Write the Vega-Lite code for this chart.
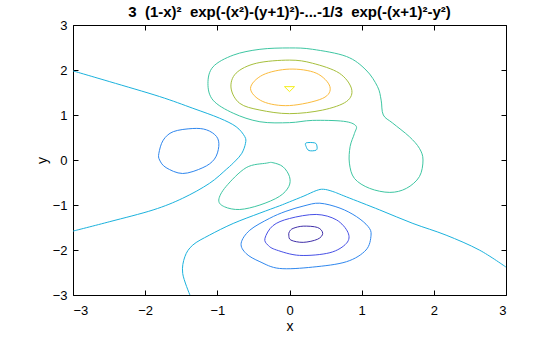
{
  "$schema": "https://vega.github.io/schema/vega-lite/v6.json",
  "autosize": "none",
  "width": 433,
  "height": 270,
  "padding": {"left": 73, "top": 25, "right": 54, "bottom": 42},
  "background": "white",
  "title": {
    "text": "3\u00a0 (1-x)²\u00a0 exp(-(x²)-(y+1)²)-...-1/3\u00a0 exp(-(x+1)²-y²)",
    "font": "Liberation Sans",
    "fontSize": 15,
    "fontWeight": "bold",
    "color": "black",
    "anchor": "middle",
    "offset": -1
  },
  "config": {
    "view": {"stroke": null},
    "axis": {
      "grid": false,
      "domainColor": "black",
      "domainWidth": 1,
      "tickColor": "black",
      "tickSize": -5,
      "labelFont": "Liberation Sans",
      "labelFontSize": 13,
      "labelColor": "black",
      "titleFont": "Liberation Sans",
      "titleFontSize": 14,
      "titleFontWeight": "normal",
      "titleColor": "black"
    }
  },
  "datasets": {
    "open": [
      {"id": "A", "lev": 0, "i": 0, "x": -3, "y": 1.98},
      {"id": "A", "lev": 0, "i": 1, "x": -2.49, "y": 1.74},
      {"id": "A", "lev": 0, "i": 2, "x": -1.8, "y": 1.41},
      {"id": "A", "lev": 0, "i": 3, "x": -1.34, "y": 1.15},
      {"id": "A", "lev": 0, "i": 4, "x": -0.97, "y": 0.93},
      {"id": "A", "lev": 0, "i": 5, "x": -0.74, "y": 0.74},
      {"id": "A", "lev": 0, "i": 6, "x": -0.62, "y": 0.52},
      {"id": "A", "lev": 0, "i": 7, "x": -0.61, "y": 0.37},
      {"id": "A", "lev": 0, "i": 8, "x": -0.66, "y": 0.15},
      {"id": "A", "lev": 0, "i": 9, "x": -0.75, "y": -0.02},
      {"id": "A", "lev": 0, "i": 10, "x": -0.87, "y": -0.2},
      {"id": "A", "lev": 0, "i": 11, "x": -1.11, "y": -0.52},
      {"id": "A", "lev": 0, "i": 12, "x": -1.48, "y": -0.85},
      {"id": "A", "lev": 0, "i": 13, "x": -1.89, "y": -1.11},
      {"id": "A", "lev": 0, "i": 14, "x": -2.49, "y": -1.37},
      {"id": "A", "lev": 0, "i": 15, "x": -3, "y": -1.58},
      {"id": "B", "lev": 0, "i": 0, "x": -1.38, "y": -3},
      {"id": "B", "lev": 0, "i": 1, "x": -1.48, "y": -2.52},
      {"id": "B", "lev": 0, "i": 2, "x": -1.45, "y": -2.15},
      {"id": "B", "lev": 0, "i": 3, "x": -1.34, "y": -1.89},
      {"id": "B", "lev": 0, "i": 4, "x": -1.11, "y": -1.67},
      {"id": "B", "lev": 0, "i": 5, "x": -0.78, "y": -1.41},
      {"id": "B", "lev": 0, "i": 6, "x": -0.41, "y": -1.18},
      {"id": "B", "lev": 0, "i": 7, "x": -0.14, "y": -1.02},
      {"id": "B", "lev": 0, "i": 8, "x": 0.0, "y": -0.93},
      {"id": "B", "lev": 0, "i": 9, "x": 0.2, "y": -0.8},
      {"id": "B", "lev": 0, "i": 10, "x": 0.37, "y": -0.68},
      {"id": "B", "lev": 0, "i": 11, "x": 0.47, "y": -0.65},
      {"id": "B", "lev": 0, "i": 12, "x": 0.6, "y": -0.7},
      {"id": "B", "lev": 0, "i": 13, "x": 0.79, "y": -0.82},
      {"id": "B", "lev": 0, "i": 14, "x": 1.25, "y": -1.11},
      {"id": "B", "lev": 0, "i": 15, "x": 1.71, "y": -1.41},
      {"id": "B", "lev": 0, "i": 16, "x": 2.17, "y": -1.67},
      {"id": "B", "lev": 0, "i": 17, "x": 2.63, "y": -2.0},
      {"id": "B", "lev": 0, "i": 18, "x": 3.0, "y": -2.38}
    ],
    "closed": [
      {"id": "C", "lev": -2, "i": 0, "x": -1.34, "y": 0.7},
      {"id": "C", "lev": -2, "i": 1, "x": -1.15, "y": 0.67},
      {"id": "C", "lev": -2, "i": 2, "x": -1.01, "y": 0.52},
      {"id": "C", "lev": -2, "i": 3, "x": -0.98, "y": 0.3},
      {"id": "C", "lev": -2, "i": 4, "x": -1.04, "y": 0.02},
      {"id": "C", "lev": -2, "i": 5, "x": -1.2, "y": -0.17},
      {"id": "C", "lev": -2, "i": 6, "x": -1.48, "y": -0.3},
      {"id": "C", "lev": -2, "i": 7, "x": -1.71, "y": -0.17},
      {"id": "C", "lev": -2, "i": 8, "x": -1.8, "y": 0.0},
      {"id": "C", "lev": -2, "i": 9, "x": -1.81, "y": 0.15},
      {"id": "C", "lev": -2, "i": 10, "x": -1.75, "y": 0.44},
      {"id": "C", "lev": -2, "i": 11, "x": -1.61, "y": 0.63},
      {"id": "D", "lev": 2, "i": 0, "x": -0.32, "y": -0.07},
      {"id": "D", "lev": 2, "i": 1, "x": -0.6, "y": -0.17},
      {"id": "D", "lev": 2, "i": 2, "x": -0.88, "y": -0.59},
      {"id": "D", "lev": 2, "i": 3, "x": -0.98, "y": -0.89},
      {"id": "D", "lev": 2, "i": 4, "x": -0.9, "y": -1.04},
      {"id": "D", "lev": 2, "i": 5, "x": -0.69, "y": -1.1},
      {"id": "D", "lev": 2, "i": 6, "x": -0.41, "y": -1.0},
      {"id": "D", "lev": 2, "i": 7, "x": -0.14, "y": -0.81},
      {"id": "D", "lev": 2, "i": 8, "x": -0.01, "y": -0.59},
      {"id": "D", "lev": 2, "i": 9, "x": 0.0, "y": -0.37},
      {"id": "D", "lev": 2, "i": 10, "x": -0.09, "y": -0.15},
      {"id": "D", "lev": 2, "i": 11, "x": -0.23, "y": -0.06},
      {"id": "E", "lev": 2, "i": 0, "x": -1.13, "y": 1.7},
      {"id": "E", "lev": 2, "i": 1, "x": -1.06, "y": 2.07},
      {"id": "E", "lev": 2, "i": 2, "x": -0.78, "y": 2.33},
      {"id": "E", "lev": 2, "i": 3, "x": -0.41, "y": 2.46},
      {"id": "E", "lev": 2, "i": 4, "x": 0.0, "y": 2.49},
      {"id": "E", "lev": 2, "i": 5, "x": 0.32, "y": 2.46},
      {"id": "E", "lev": 2, "i": 6, "x": 0.79, "y": 2.3},
      {"id": "E", "lev": 2, "i": 7, "x": 1.06, "y": 2.0},
      {"id": "E", "lev": 2, "i": 8, "x": 1.22, "y": 1.63},
      {"id": "E", "lev": 2, "i": 9, "x": 1.27, "y": 1.33},
      {"id": "E", "lev": 2, "i": 10, "x": 1.3, "y": 1.0},
      {"id": "E", "lev": 2, "i": 11, "x": 1.43, "y": 0.82},
      {"id": "E", "lev": 2, "i": 12, "x": 1.66, "y": 0.52},
      {"id": "E", "lev": 2, "i": 13, "x": 1.8, "y": 0.26},
      {"id": "E", "lev": 2, "i": 14, "x": 1.85, "y": 0.0},
      {"id": "E", "lev": 2, "i": 15, "x": 1.8, "y": -0.37},
      {"id": "E", "lev": 2, "i": 16, "x": 1.62, "y": -0.63},
      {"id": "E", "lev": 2, "i": 17, "x": 1.39, "y": -0.72},
      {"id": "E", "lev": 2, "i": 18, "x": 1.11, "y": -0.63},
      {"id": "E", "lev": 2, "i": 19, "x": 0.9, "y": -0.41},
      {"id": "E", "lev": 2, "i": 20, "x": 0.83, "y": -0.07},
      {"id": "E", "lev": 2, "i": 21, "x": 0.84, "y": 0.3},
      {"id": "E", "lev": 2, "i": 22, "x": 0.9, "y": 0.59},
      {"id": "E", "lev": 2, "i": 23, "x": 0.92, "y": 0.76},
      {"id": "E", "lev": 2, "i": 24, "x": 0.75, "y": 0.86},
      {"id": "E", "lev": 2, "i": 25, "x": 0.32, "y": 0.88},
      {"id": "E", "lev": 2, "i": 26, "x": 0.0, "y": 0.83},
      {"id": "E", "lev": 2, "i": 27, "x": -0.41, "y": 0.85},
      {"id": "E", "lev": 2, "i": 28, "x": -0.78, "y": 1.04},
      {"id": "E", "lev": 2, "i": 29, "x": -1.06, "y": 1.33},
      {"id": "F", "lev": 0, "i": 0, "x": 0.23, "y": 0.38},
      {"id": "F", "lev": 0, "i": 1, "x": 0.35, "y": 0.38},
      {"id": "F", "lev": 0, "i": 2, "x": 0.38, "y": 0.31},
      {"id": "F", "lev": 0, "i": 3, "x": 0.37, "y": 0.22},
      {"id": "F", "lev": 0, "i": 4, "x": 0.27, "y": 0.21},
      {"id": "F", "lev": 0, "i": 5, "x": 0.23, "y": 0.3},
      {"id": "G", "lev": 4, "i": 0, "x": -0.81, "y": 1.6},
      {"id": "G", "lev": 4, "i": 1, "x": -0.74, "y": 1.93},
      {"id": "G", "lev": 4, "i": 2, "x": -0.46, "y": 2.15},
      {"id": "G", "lev": 4, "i": 3, "x": 0.0, "y": 2.22},
      {"id": "G", "lev": 4, "i": 4, "x": 0.32, "y": 2.15},
      {"id": "G", "lev": 4, "i": 5, "x": 0.69, "y": 1.93},
      {"id": "G", "lev": 4, "i": 6, "x": 0.86, "y": 1.58},
      {"id": "G", "lev": 4, "i": 7, "x": 0.79, "y": 1.3},
      {"id": "G", "lev": 4, "i": 8, "x": 0.46, "y": 1.11},
      {"id": "G", "lev": 4, "i": 9, "x": 0.0, "y": 1.03},
      {"id": "G", "lev": 4, "i": 10, "x": -0.41, "y": 1.11},
      {"id": "G", "lev": 4, "i": 11, "x": -0.69, "y": 1.26},
      {"id": "H", "lev": 6, "i": 0, "x": -0.54, "y": 1.59},
      {"id": "H", "lev": 6, "i": 1, "x": -0.37, "y": 1.89},
      {"id": "H", "lev": 6, "i": 2, "x": 0.0, "y": 2.02},
      {"id": "H", "lev": 6, "i": 3, "x": 0.37, "y": 1.93},
      {"id": "H", "lev": 6, "i": 4, "x": 0.56, "y": 1.63},
      {"id": "H", "lev": 6, "i": 5, "x": 0.46, "y": 1.37},
      {"id": "H", "lev": 6, "i": 6, "x": 0.0, "y": 1.21},
      {"id": "H", "lev": 6, "i": 7, "x": -0.37, "y": 1.3},
      {"id": "J", "lev": -2, "i": 0, "x": -0.67, "y": -1.85},
      {"id": "J", "lev": -2, "i": 1, "x": -0.55, "y": -1.56},
      {"id": "J", "lev": -2, "i": 2, "x": -0.28, "y": -1.3},
      {"id": "J", "lev": -2, "i": 3, "x": -0.05, "y": -1.14},
      {"id": "J", "lev": -2, "i": 4, "x": 0.2, "y": -1.02},
      {"id": "J", "lev": -2, "i": 5, "x": 0.42, "y": -0.96},
      {"id": "J", "lev": -2, "i": 6, "x": 0.7, "y": -1.07},
      {"id": "J", "lev": -2, "i": 7, "x": 0.93, "y": -1.26},
      {"id": "J", "lev": -2, "i": 8, "x": 1.09, "y": -1.48},
      {"id": "J", "lev": -2, "i": 9, "x": 1.13, "y": -1.67},
      {"id": "J", "lev": -2, "i": 10, "x": 1.06, "y": -2.0},
      {"id": "J", "lev": -2, "i": 11, "x": 0.79, "y": -2.26},
      {"id": "J", "lev": -2, "i": 12, "x": 0.32, "y": -2.38},
      {"id": "J", "lev": -2, "i": 13, "x": -0.14, "y": -2.41},
      {"id": "J", "lev": -2, "i": 14, "x": -0.41, "y": -2.26},
      {"id": "J", "lev": -2, "i": 15, "x": -0.6, "y": -2.08},
      {"id": "K", "lev": -4, "i": 0, "x": -0.34, "y": -1.74},
      {"id": "K", "lev": -4, "i": 1, "x": -0.23, "y": -1.46},
      {"id": "K", "lev": -4, "i": 2, "x": 0.0, "y": -1.3},
      {"id": "K", "lev": -4, "i": 3, "x": 0.37, "y": -1.21},
      {"id": "K", "lev": -4, "i": 4, "x": 0.65, "y": -1.33},
      {"id": "K", "lev": -4, "i": 5, "x": 0.81, "y": -1.61},
      {"id": "K", "lev": -4, "i": 6, "x": 0.79, "y": -1.85},
      {"id": "K", "lev": -4, "i": 7, "x": 0.56, "y": -2.06},
      {"id": "K", "lev": -4, "i": 8, "x": 0.14, "y": -2.12},
      {"id": "K", "lev": -4, "i": 9, "x": -0.18, "y": -2.0},
      {"id": "K", "lev": -4, "i": 10, "x": -0.3, "y": -1.89},
      {"id": "L", "lev": -6, "i": 0, "x": 0.0, "y": -1.59},
      {"id": "L", "lev": -6, "i": 1, "x": 0.05, "y": -1.52},
      {"id": "L", "lev": -6, "i": 2, "x": 0.19, "y": -1.47},
      {"id": "L", "lev": -6, "i": 3, "x": 0.39, "y": -1.5},
      {"id": "L", "lev": -6, "i": 4, "x": 0.46, "y": -1.63},
      {"id": "L", "lev": -6, "i": 5, "x": 0.39, "y": -1.76},
      {"id": "L", "lev": -6, "i": 6, "x": 0.19, "y": -1.83},
      {"id": "L", "lev": -6, "i": 7, "x": 0.02, "y": -1.78},
      {"id": "L", "lev": -6, "i": 8, "x": -0.01, "y": -1.67}
    ],
    "tri": [
      {"id": "I", "lev": 8, "i": 0, "x": -0.07, "y": 1.63},
      {"id": "I", "lev": 8, "i": 1, "x": 0.07, "y": 1.63},
      {"id": "I", "lev": 8, "i": 2, "x": 0.0, "y": 1.52},
      {"id": "I", "lev": 8, "i": 3, "x": -0.07, "y": 1.63}
    ]
  },
  "resolve": {"axis": {"x": "independent", "y": "independent"}},
  "layer": [
    {
      "data": {"name": "open"},
      "mark": {"type": "line", "interpolate": "cardinal", "strokeWidth": 1, "clip": true},
      "encoding": {
        "x": {"field": "x", "type": "quantitative", "scale": {"domain": [-3, 3], "nice": false, "zero": false},
              "axis": {"values": [-3, -2, -1, 0, 1, 2, 3], "title": "x", "labelPadding": 14, "titlePadding": 2}},
        "y": {"field": "y", "type": "quantitative", "scale": {"domain": [-3, 3], "nice": false, "zero": false},
              "axis": {"values": [-3, -2, -1, 0, 1, 2, 3], "title": "y", "labelPadding": 11, "titlePadding": 3}},
        "color": {"field": "lev", "type": "ordinal",
                  "scale": {"domain": [-6, -4, -2, 0, 2, 4, 6, 8],
                            "range": ["#3f2ea8", "#4750e6", "#2f87ee", "#1bb2dd", "#3ec6a2", "#a6bf3c", "#fbbb3d", "#f4ef18"]},
                  "legend": null},
        "detail": {"field": "id"},
        "order": {"field": "i", "type": "quantitative"}
      }
    },
    {
      "data": {"name": "closed"},
      "mark": {"type": "line", "interpolate": "cardinal-closed", "strokeWidth": 1},
      "encoding": {
        "x": {"field": "x", "type": "quantitative",
              "axis": {"orient": "top", "values": [-3, -2, -1, 0, 1, 2, 3], "labels": false, "title": null}},
        "y": {"field": "y", "type": "quantitative",
              "axis": {"orient": "right", "values": [-3, -2, -1, 0, 1, 2, 3], "labels": false, "title": null}},
        "color": {"field": "lev", "type": "ordinal", "legend": null},
        "detail": {"field": "id"},
        "order": {"field": "i", "type": "quantitative"}
      }
    },
    {
      "data": {"name": "tri"},
      "mark": {"type": "line", "strokeWidth": 1},
      "encoding": {
        "x": {"field": "x", "type": "quantitative", "axis": null},
        "y": {"field": "y", "type": "quantitative", "axis": null},
        "color": {"field": "lev", "type": "ordinal", "legend": null},
        "detail": {"field": "id"},
        "order": {"field": "i", "type": "quantitative"}
      }
    }
  ]
}
